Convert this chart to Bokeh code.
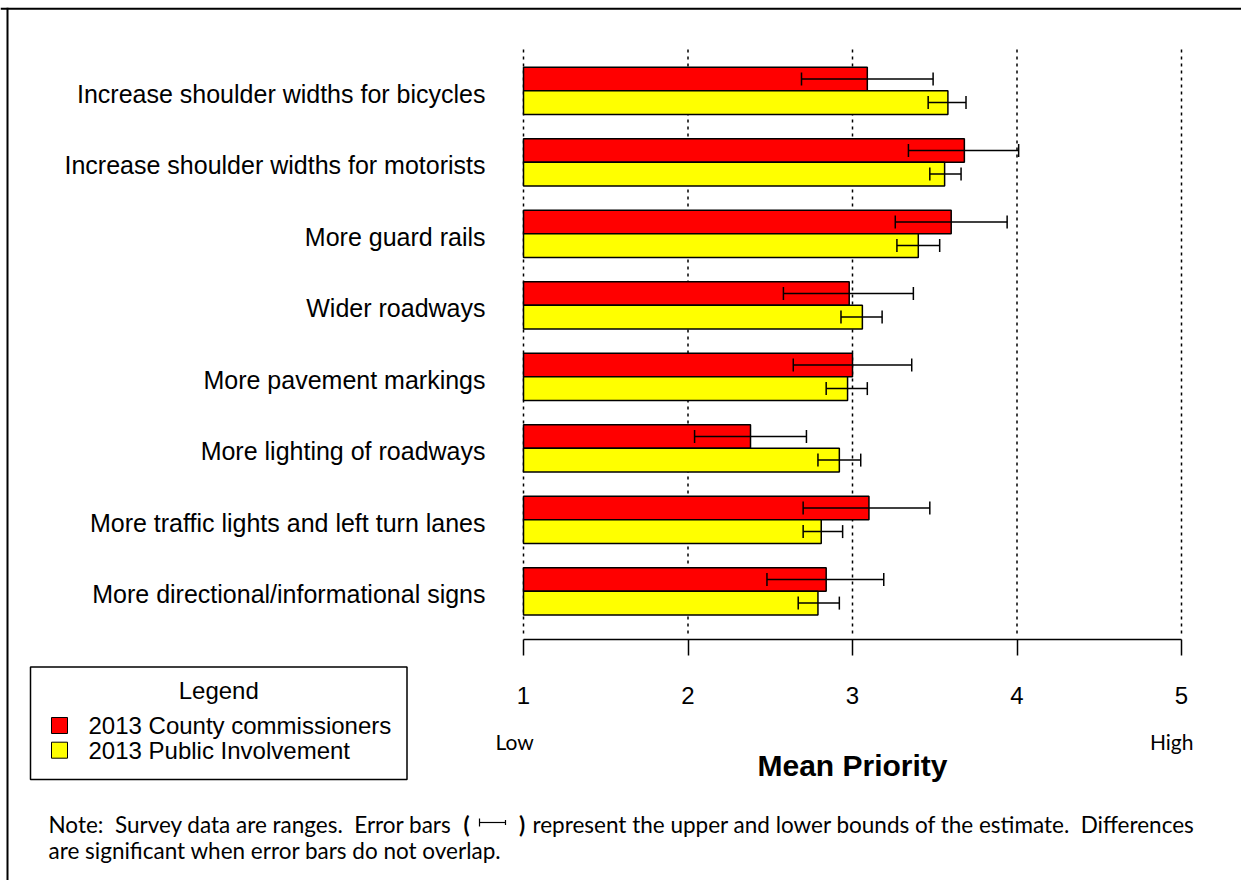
from bokeh.plotting import figure
from bokeh.models import Range1d, LinearAxis, FixedTicker, ColumnDataSource, Whisker, TeeHead
from bokeh.core.properties import value
from bokeh.embed import file_html
from bokeh.resources import INLINE

# ---------------- data ----------------
categories = [
    "Increase shoulder widths for bicycles",
    "Increase shoulder widths for motorists",
    "More guard rails",
    "Wider roadways",
    "More pavement markings",
    "More lighting of roadways",
    "More traffic lights and left turn lanes",
    "More directional/informational signs",
]
series_names = ["2013 County commissioners", "2013 Public Involvement"]
series_colors = ["#FF0000", "#FFFF00"]

commissioners = [3.09, 3.68, 3.60, 2.98, 3.00, 2.38, 3.10, 2.84]
commissioners_lo = [2.69, 3.34, 3.26, 2.58, 2.64, 2.04, 2.70, 2.48]
commissioners_hi = [3.49, 4.01, 3.94, 3.37, 3.36, 2.72, 3.47, 3.19]

public = [3.58, 3.56, 3.40, 3.06, 2.97, 2.92, 2.81, 2.79]
public_lo = [3.46, 3.47, 3.27, 2.93, 2.84, 2.79, 2.70, 2.67]
public_hi = [3.69, 3.66, 3.53, 3.18, 3.09, 3.05, 2.94, 2.92]

x_ticks = [1, 2, 3, 4, 5]
x_tick_labels = ["1", "2", "3", "4", "5"]
axis_title = "Mean Priority"
scale_low = "Low"
scale_high = "High"
legend_title = "Legend"
note_part_a = "Note:\u00a0 Survey data are ranges.\u00a0 Error bars"
note_part_b = "represent the upper and lower bounds of the estimate.\u00a0 Differences"
note_line_2 = "are significant when error bars do not overlap."

# ---------------- layout (page pixels) ----------------
W, H = 1241, 880
PAGE = 0
X1_PX, X5_PX = 523.0, 1181.0
ROW0_PY, ROW_STEP = 90.3, 71.5
ppu = (X5_PX - X1_PX) / 4.0
x_start = 1 + (PAGE - X1_PX) / ppu
x_end = 1 + (PAGE + W - X1_PX) / ppu


def row_of(py):
    return (py - ROW0_PY) / ROW_STEP


y_top = row_of(PAGE)
y_bot = row_of(PAGE + H)

p = figure(width=W, height=H, output_backend="svg", toolbar_location=None,
           x_range=Range1d(x_start, x_end), y_range=Range1d(y_bot, y_top),
           x_axis_location=None, y_axis_location=None, min_border=0,
           background_fill_color="white", border_fill_color="white",
           outline_line_color=None, outline_line_alpha=0, outline_line_width=0)
p.grid.grid_line_color = None
p.grid.visible = False
p.extra_x_ranges = {"px": Range1d(PAGE, PAGE + W)}
p.extra_y_ranges = {"py": Range1d(PAGE + H, PAGE)}

rows = list(range(len(categories)))
BAR_H = 0.33
src = ColumnDataSource(dict(
    cat=categories, row=rows,
    y_red=[r - BAR_H / 2 for r in rows], y_yel=[r + BAR_H / 2 for r in rows],
    comm=commissioners, comm_lo=commissioners_lo, comm_hi=commissioners_hi,
    pub=public, pub_lo=public_lo, pub_hi=public_hi,
))

# page frame (top and left edges) as filled strips
p.quad(left=[0, 6], right=[W, 8], top=[7.3, 7.3], bottom=[9.3, H],
       x_range_name="px", y_range_name="py", fill_color="black", line_color=None)

# dotted reference lines
p.segment(x0=x_ticks, x1=x_ticks, y0=[row_of(49)] * len(x_ticks), y1=[row_of(637)] * len(x_ticks),
          line_color="black", line_width=1.5, line_dash="3 4")

# bars
p.hbar(y="y_red", left=1, right="comm", height=BAR_H, source=src,
       fill_color=series_colors[0], line_color="black", line_width=1.5)
p.hbar(y="y_yel", left=1, right="pub", height=BAR_H, source=src,
       fill_color=series_colors[1], line_color="black", line_width=1.5)

# error bars
for base, lo, hi in (("y_red", "comm_lo", "comm_hi"), ("y_yel", "pub_lo", "pub_hi")):
    w = Whisker(source=src, base=base, lower=lo, upper=hi, dimension="width",
                line_color="black", line_width=1.5, level="annotation",
                upper_head=TeeHead(size=13, line_width=1.5, line_color="black"),
                lower_head=TeeHead(size=13, line_width=1.5, line_color="black"))
    p.add_layout(w)

# x axis
xa = LinearAxis(fixed_location=row_of(639), ticker=FixedTicker(ticks=x_ticks, minor_ticks=[]),
                bounds=(1, 5),
                major_label_overrides={t: s for t, s in zip(x_ticks, x_tick_labels)},
                axis_line_width=1.5, axis_line_color="black",
                major_tick_line_width=1.5, major_tick_line_color="black",
                major_tick_out=16, major_tick_in=0, minor_tick_out=0, minor_tick_in=0,
                major_label_text_font="Liberation Sans", major_label_text_font_size="24px",
                major_label_text_color="black", major_label_standoff=31,
                axis_label=axis_title, axis_label_text_font="Liberation Sans",
                axis_label_text_font_style="bold", axis_label_text_font_size="30px",
                axis_label_text_color="black", axis_label_standoff=42)
p.add_layout(xa, "below")

# category labels
p.text(x=485, y="row", text="cat", source=src, x_range_name="px",
       text_align="right", text_baseline="middle", y_offset=3,
       text_font=value("Liberation Sans"), text_font_size="25px", text_color="black")

# Low / High
p.text(x=[495], y=[741], text=[scale_low], x_range_name="px", y_range_name="py",
       text_align="left", text_baseline="middle",
       text_font=value("Lato"), text_font_size="21px", text_color="black")
p.text(x=[1193], y=[741], text=[scale_high], x_range_name="px", y_range_name="py",
       text_align="right", text_baseline="middle",
       text_font=value("Lato"), text_font_size="21px", text_color="black")

# legend box
p.quad(left=[30], right=[406.5], top=[666.5], bottom=[779], x_range_name="px", y_range_name="py",
       fill_color="white", line_color="black", line_width=1.5)
p.text(x=[218.25], y=[689.5], text=[legend_title], x_range_name="px", y_range_name="py",
       text_align="center", text_baseline="middle",
       text_font=value("Liberation Sans"), text_font_size="24px", text_color="black")
p.rect(x=[59, 59], y=[725, 749.7], width=16, height=16, x_range_name="px", y_range_name="py",
       fill_color=series_colors, line_color="black", line_width=1)
p.text(x=[88, 88], y=[725, 750], text=series_names, x_range_name="px", y_range_name="py",
       text_align="left", text_baseline="middle",
       text_font=value("Liberation Sans"), text_font_size="24px", text_color="black")

# note
NOTE_FONT = "22.5px"
p.text(x=[48], y=[824], text=[note_part_a], x_range_name="px", y_range_name="py",
       text_align="left", text_baseline="middle",
       text_font=value("Lato"), text_font_size=NOTE_FONT, text_color="black")
p.text(x=[466, 521.5], y=[824, 824], text=["(", ")"], x_range_name="px", y_range_name="py",
       text_align="center", text_baseline="middle", text_font_style="bold",
       text_font=value("Lato"), text_font_size=NOTE_FONT, text_color="black")
p.segment(x0=[479, 479, 505], x1=[505, 479, 505], y0=[822, 818, 819.5], y1=[822, 826, 824.5],
          x_range_name="px", y_range_name="py", line_color="black", line_width=1.2)
p.text(x=[532], y=[824], text=[note_part_b], x_range_name="px", y_range_name="py",
       text_align="left", text_baseline="middle",
       text_font=value("Lato"), text_font_size=NOTE_FONT, text_color="black")
p.text(x=[48], y=[850], text=[note_line_2], x_range_name="px", y_range_name="py",
       text_align="left", text_baseline="middle",
       text_font=value("Lato"), text_font_size=NOTE_FONT, text_color="black")

open("out.html", "w").write(file_html(p, INLINE))
